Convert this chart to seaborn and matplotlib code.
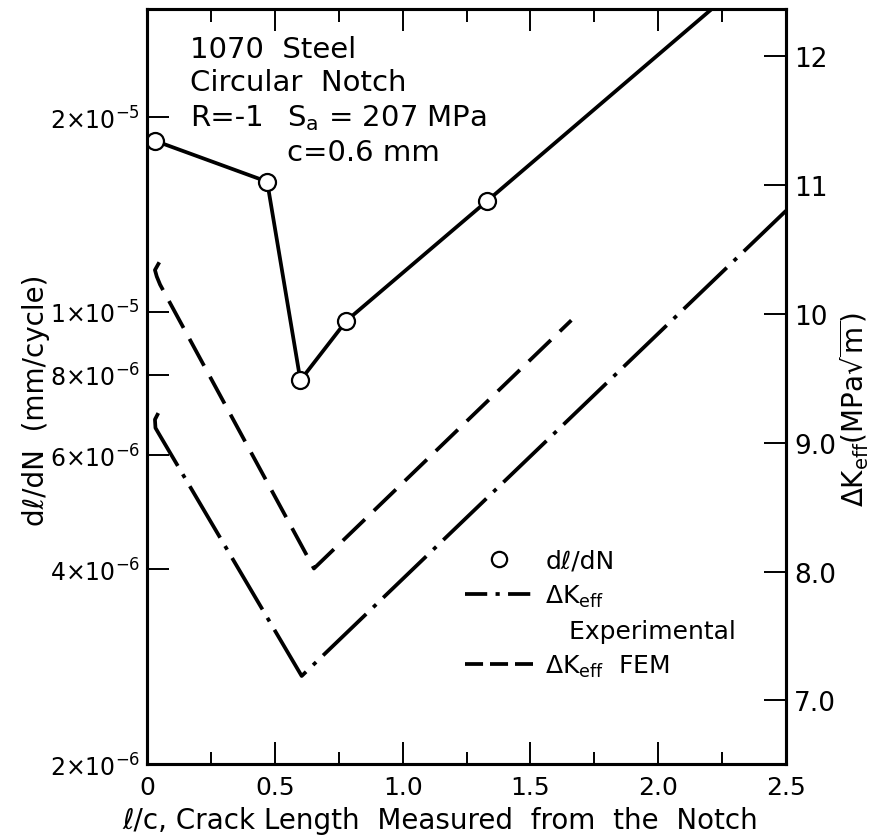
import numpy as np
import pandas as pd
import matplotlib
matplotlib.use("Agg")
import matplotlib.pyplot as plt
import seaborn as sns
from matplotlib.lines import Line2D
from matplotlib.ticker import FixedLocator, NullLocator, FixedFormatter

# ---------------- data ----------------
# crack growth rate dl/dN (left, log axis)
rate_x = [0.03, 0.47, 0.60, 0.78, 1.33]
rate_y = [1.84e-5, 1.59e-5, 7.84e-6, 9.69e-6, 1.484e-5]
# the solid line continues past the last circle and leaves through the top
rate_line_x = [0.03, 0.47, 0.60, 0.78, 1.33, 2.30]
rate_line_y = [1.84e-5, 1.59e-5, 7.84e-6, 9.69e-6, 1.484e-5, 3.155e-5]

# Delta K_eff experimental (right, linear axis) - includes the small hand-drawn hook at start
exp_x = [0.044, 0.031, 0.033, 0.045, 0.605, 2.50]
exp_k = [9.23, 9.18, 9.115, 9.074, 7.19, 10.80]

# Delta K_eff FEM
fem_x = [0.048, 0.031, 0.038, 0.051, 0.653, 1.66]
fem_k = [10.40, 10.34, 10.29, 10.227, 8.024, 9.95]

xticks = [0, 0.5, 1.0, 1.5, 2.0, 2.5]
xtick_labels = ["0", "0.5", "1.0", "1.5", "2.0", "2.5"]
xminor = [0.25, 0.75, 1.25, 1.75, 2.25]
left_ticks = [2e-6, 4e-6, 6e-6, 8e-6, 1e-5, 2e-5]
left_labels = [r"$2{\times}10^{-6}$", r"$4{\times}10^{-6}$", r"$6{\times}10^{-6}$",
               r"$8{\times}10^{-6}$", r"$1{\times}10^{-5}$", r"$2{\times}10^{-5}$"]
right_ticks = [7, 8, 9, 10, 11, 12]
right_labels = ["7.0", "8.0", "9.0", "10", "11", "12"]

# ---------------- styling ----------------
sns.set_style("ticks")
plt.rcParams["font.family"] = ["DejaVu Sans"]
plt.rcParams["mathtext.fontset"] = "dejavusans"
plt.rcParams["lines.scale_dashes"] = False
for key in ("text.color", "axes.labelcolor", "xtick.color", "ytick.color",
            "axes.edgecolor"):
    plt.rcParams[key] = "black"

fig = plt.figure(figsize=(8.82, 8.37), dpi=100)
ax = fig.add_axes([0.1667, 0.086, 0.7245, 0.902])
ax2 = ax.twinx()

LW = 2.7

# solid line + circles on log axis
sns.lineplot(x=rate_line_x, y=rate_line_y, ax=ax, sort=False, estimator=None,
             color="black", lw=LW, zorder=2)
sns.scatterplot(x=rate_x, y=rate_y, ax=ax, marker="o", s=150,
                facecolor="white", edgecolor="black", linewidth=1.6, zorder=3)

# Delta K curves on linear right axis
sns.lineplot(x=exp_x, y=exp_k, ax=ax2, sort=False, estimator=None, color="black",
             lw=LW, linestyle=(0, (43, 7, 3, 7)))
sns.lineplot(x=fem_x, y=fem_k, ax=ax2, sort=False, estimator=None, color="black",
             lw=LW, linestyle=(0, (22, 9)))

# axes limits / scales
ax.set_yscale("log")
ax.set_xlim(0, 2.5)
ax.set_ylim(2e-6, 2.94e-5)
ax2.set_ylim(6.507, 12.365)

# ticks
ax.xaxis.set_major_locator(FixedLocator(xticks))
ax.xaxis.set_major_formatter(FixedFormatter(xtick_labels))
ax.xaxis.set_minor_locator(FixedLocator(xminor))
ax.yaxis.set_major_locator(FixedLocator(left_ticks))
ax.yaxis.set_major_formatter(FixedFormatter(left_labels))
ax.yaxis.set_minor_locator(NullLocator())
ax2.yaxis.set_major_locator(FixedLocator(right_ticks))
ax2.yaxis.set_major_formatter(FixedFormatter(right_labels))
ax2.yaxis.set_minor_locator(NullLocator())

ax.tick_params(axis="x", which="major", direction="in", length=16, width=1.4,
               top=True, bottom=True, labelsize=18, pad=8, colors="black")
ax.tick_params(axis="x", which="minor", direction="in", length=9, width=1.4,
               top=True, bottom=True, colors="black")
ax.tick_params(axis="y", which="major", direction="in", length=16, width=1.4,
               left=True, right=False, labelsize=17, pad=5, colors="black")
ax2.tick_params(axis="y", which="major", direction="in", length=16, width=1.4,
                right=True, left=False, labelsize=19, pad=6, colors="black")

for a in (ax, ax2):
    for s in a.spines.values():
        s.set_linewidth(2.2)
        s.set_color("black")

# axis labels
ax.set_xlabel("ℓ/c, Crack Length  Measured  from  the  Notch", fontsize=20, color="black")
ax.xaxis.set_label_coords(0.459, -0.055)
ax.set_ylabel("dℓ/dN  (mm/cycle)", fontsize=20, color="black")
ax.yaxis.set_label_coords(-0.152, 0.483)
ax2.set_ylabel(r"$\Delta$K$_{\rm eff}$(MPa$\sqrt{\rm m}$)", fontsize=20, color="black")
ax2.yaxis.set_label_coords(1.08, 0.47)

# annotation block
tk = dict(transform=ax.transAxes, fontsize=21, ha="left", va="baseline", color="black")
ax.text(0.067, 0.936, "1070  Steel", **tk)
ax.text(0.067, 0.893, "Circular  Notch", **tk)
ax.text(0.067, 0.846, "R=-1", **tk)
ax.text(0.219, 0.846, r"S$_{\rm a}$ = 207 MPa", **tk)
ax.text(0.219, 0.800, "c=0.6 mm", **tk)

# legend
handles = [
    Line2D([], [], ls="none", marker="o", ms=11, mfc="white", mec="black", mew=1.6),
    Line2D([], [], color="black", lw=LW, ls=(0, (16, 6, 3, 6))),
    Line2D([], [], ls="none"),
    Line2D([], [], color="black", lw=LW, ls=(0, (13, 5))),
]
labels = ["dℓ/dN", r"$\Delta$K$_{\rm eff}$", "   Experimental", r"$\Delta$K$_{\rm eff}$  FEM"]
leg = ax2.legend(handles, labels, loc="upper left", bbox_to_anchor=(0.498, 0.285),
                 frameon=False, fontsize=18, handlelength=2.7, handletextpad=0.5,
                 labelspacing=0.4, borderpad=0, borderaxespad=0)
for t in leg.get_texts():
    t.set_color("black")

fig.savefig("out.png", dpi=100)
